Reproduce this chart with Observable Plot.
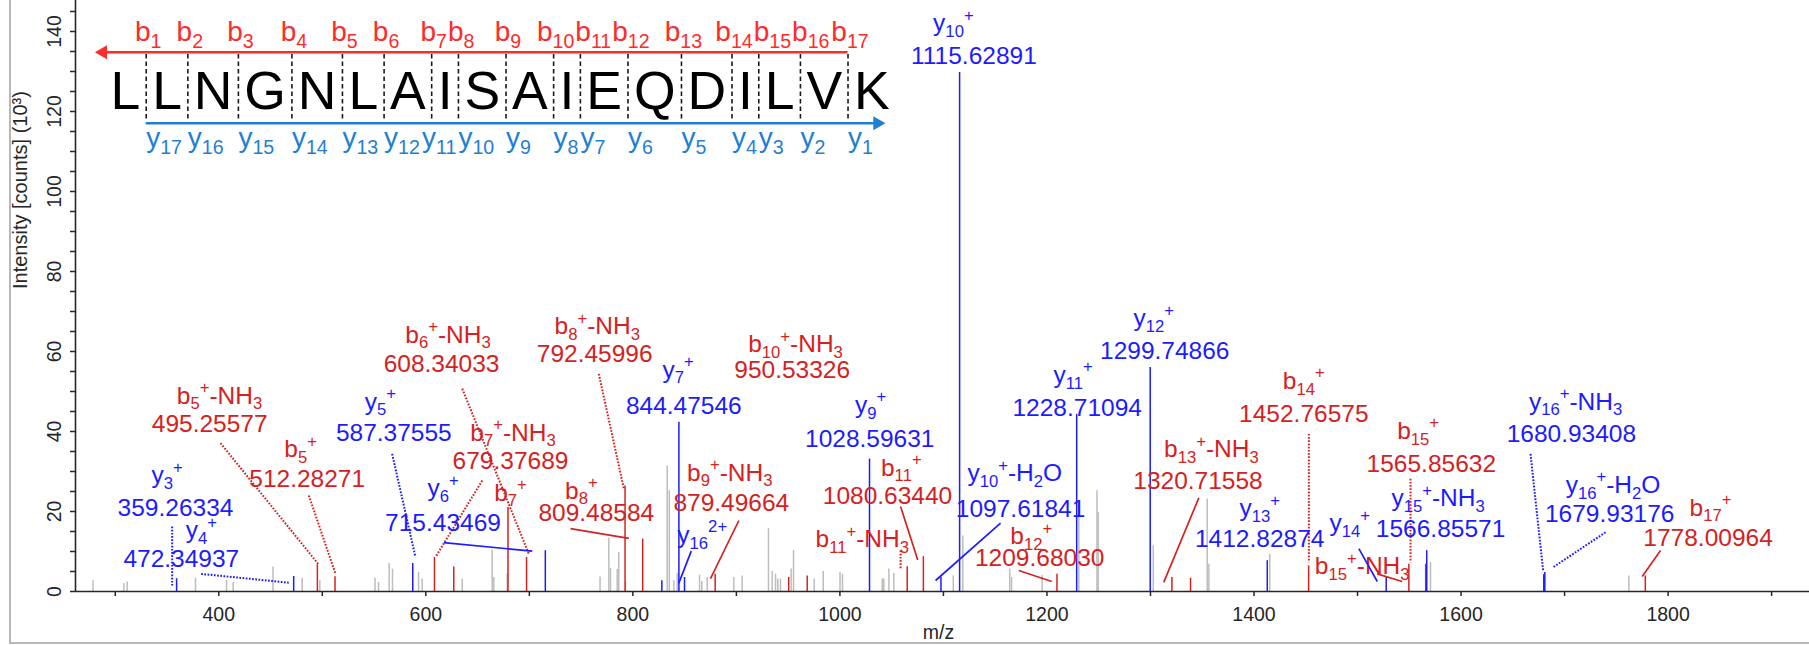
<!DOCTYPE html>
<html lang="en">
<head>
<meta charset="utf-8">
<title>MS/MS spectrum of LLNGNLAISAIEQDILVK</title>
<script src="https://cdn.jsdelivr.net/npm/d3@7"></script>
<script src="https://cdn.jsdelivr.net/npm/@observablehq/plot@0.6"></script>
<style>
  html, body { margin: 0; padding: 0; background: #fff; }
  #chart { position: relative; width: 1809px; height: 645px; overflow: hidden; background: #fff; }
  #chart svg { position: absolute; top: 0; left: 0; }
  #chart .border { position: absolute; left: 9px; top: -20px; width: 1900px; height: 664px;
                   border: 2.5px solid #b8b8b8; box-sizing: border-box; pointer-events: none; }
</style>
</head>
<body>
<div id="chart"></div>
<script>
// ---------- spectrum data: m/z and intensity (10^3 counts) ----------
// b-type fragment ions (red); names use _{sub} and ^{sup} markup, "" = unassigned label
const bNames = ["b_{5}^{+}-NH_{3}", "b_{5}^{+}", "b_{6}^{+}-NH_{3}", "", "b_{7}^{+}-NH_{3}", "b_{7}^{+}",
  "b_{8}^{+}-NH_{3}", "b_{8}^{+}", "b_{9}^{+}-NH_{3}", "b_{10}^{+}-NH_{3}", "", "b_{11}^{+}-NH_{3}", "b_{11}^{+}",
  "b_{12}^{+}", "b_{13}^{+}-NH_{3}", "", "b_{14}^{+}", "b_{15}^{+}-NH_{3}", "b_{15}^{+}", "b_{17}^{+}"];
const bMz = [495.25577, 512.28271, 608.34033, 627.0, 679.37689, 697.3, 792.45996, 809.48584, 879.49664,
  950.53326, 968.4, 1065.0, 1080.63440, 1209.68030, 1320.71558, 1338.7, 1452.76575, 1549.6, 1565.85632, 1778.00964];
const bIntensity = [6.7, 3.7, 8.5, 6.1, 21, 8.5, 26.4, 13.1, 4.3, 3.5, 3.9, 6.2, 8.7, 4.3, 3.5, 3.3, 6.4, 6.8, 6.8, 3.9];

// y-type fragment ions (blue)
const yNames = ["y_{3}^{+}", "y_{4}^{+}", "y_{5}^{+}", "y_{6}^{+}", "", "y_{7}^{+}", "y_{16}^{2+}", "y_{9}^{+}",
  "y_{10}^{+}-H_{2}O", "y_{10}^{+}", "y_{11}^{+}", "y_{12}^{+}", "y_{13}^{+}", "y_{14}^{+}", "y_{15}^{+}-NH_{3}",
  "y_{16}^{+}-H_{2}O", "y_{16}^{+}-NH_{3}"];
const yMz = [359.26334, 472.34937, 587.37555, 715.43469, 828.0, 844.47546, 849.9, 1028.59631, 1097.61841,
  1115.62891, 1228.71094, 1299.74866, 1412.82874, 1527.7, 1566.85571, 1679.93176, 1680.93408];
const yIntensity = [3.2, 3.75, 7.0, 10.2, 2.7, 42.3, 3.5, 33.1, 3.5, 129.75, 44.3, 56, 7.7, 3.5, 10.2, 4.2, 4.75];

// unassigned peaks (grey)
const otherMz = [278.5, 308.3, 311.5, 377.5, 407.5, 413.9, 452.4, 480.6, 497.6, 550.9, 554.3, 564.6, 567.8,
  593.0, 596.5, 635.2, 664.1, 665.7, 678.6, 768.3, 776.8, 778.4, 784.9, 786.4, 792.9, 833.2, 835.2, 839.6,
  842.9, 864.4, 866.6, 871.8, 897.5, 905.6, 931.0, 934.6, 937.8, 940.0, 942.6, 952.9, 955.2, 975.2, 983.9,
  1000.1, 1002.5, 1040.9, 1042.4, 1047.3, 1052.1, 1109.5, 1118.7, 1164.0, 1165.8, 1195.4, 1230.8, 1248.3,
  1249.5, 1302.7, 1354.8, 1356.4, 1415.2, 1570.5, 1762.1];
const otherIntensity = [2.7, 2.0, 2.4, 3.3, 2.8, 2.25, 6.1, 3.3, 2.7, 3.3, 2.25, 7.0, 5.6, 4.75, 3.1, 3.1,
  10.4, 3.5, 4.5, 3.6, 13.3, 5.8, 5.5, 9.75, 2.25, 31.4, 25.2, 2.7, 4.5, 4.1, 2.5, 3.5, 3.5, 3.9, 15.7, 5.0,
  4.3, 3.1, 3.1, 5.6, 10.3, 3.1, 5.0, 4.75, 4.3, 3.1, 3.1, 5.6, 4.5, 3.9, 13.9, 5.6, 3.5, 4.0, 21.5, 25.2,
  19.75, 11.4, 23.1, 6.8, 9.3, 7.25, 3.9];

// peptide sequence
const residues = ["L", "L", "N", "G", "N", "L", "A", "I", "S", "A", "I", "E", "Q", "D", "I", "L", "V", "K"];

// axis ticks
const xTicks = d3.range(300, 1901, 100);
const yTicks = d3.range(0, 146, 5);
const yTickLabels = [0, 20, 40, 60, 80, 100, 120, 140];

// ---------- annotation layout (anchors in m/z, intensity units) ----------
const labelLayout = [
  {ion: "y_{3}^{+}", name: [350.2, 27.1], num: [358.2, 19.0]},
  {ion: "y_{4}^{+}", name: [383.1, 13.4], num: [363.8, 6.1]},
  {ion: "b_{5}^{+}-NH_{3}", name: [400.7, 47.0], num: [391.2, 39.8]},
  {ion: "b_{5}^{+}", name: [479.0, 33.6], num: [485.4, 26.1]},
  {ion: "y_{5}^{+}", name: [556.2, 45.5], num: [569.1, 37.75]},
  {ion: "y_{6}^{+}", name: [616.6, 23.8], num: [616.6, 15.25]},
  {ion: "b_{6}^{+}-NH_{3}", name: [621.4, 62.25], num: [615.2, 54.8]},
  {ion: "b_{7}^{+}-NH_{3}", name: [684.2, 37.75], num: [681.8, 30.7]},
  {ion: "b_{7}^{+}", name: [681.8, 22.75]},
  {ion: "b_{8}^{+}-NH_{3}", name: [765.6, 64.4], num: [763.1, 57.3]},
  {ion: "b_{8}^{+}", name: [750.2, 23.25], num: [764.7, 17.75]},
  {ion: "y_{7}^{+}", name: [843.6, 53.5], num: [849.2, 44.4]},
  {ion: "b_{9}^{+}-NH_{3}", name: [893.6, 27.75], num: [895.1, 20.25]},
  {ion: "y_{16}^{2+}", name: [867.0, 12.2]},
  {ion: "b_{10}^{+}-NH_{3}", name: [957.1, 59.8], num: [953.9, 53.4]},
  {ion: "y_{9}^{+}", name: [1029.6, 44.7], num: [1028.8, 36.1]},
  {ion: "b_{11}^{+}", name: [1059.3, 29], num: [1046.0, 21.9]},
  {ion: "b_{11}^{+}-NH_{3}", name: [1021.6, 11.1]},
  {ion: "y_{10}^{+}", name: [1109.6, 140.1], num: [1129.4, 131.9]},
  {ion: "y_{10}^{+}-H_{2}O", name: [1168.9, 27.6], num: [1174.5, 18.6]},
  {ion: "b_{12}^{+}", name: [1184.9, 11.9], num: [1193.0, 6.5]},
  {ion: "y_{11}^{+}", name: [1225.2, 52.2], num: [1229.2, 44]},
  {ion: "y_{12}^{+}", name: [1303.2, 66.3], num: [1313.8, 58.2]},
  {ion: "b_{13}^{+}-NH_{3}", name: [1358.8, 33.6], num: [1345.9, 25.7]},
  {ion: "y_{13}^{+}", name: [1405.5, 18.8], num: [1405.5, 11.1]},
  {ion: "b_{14}^{+}", name: [1448.1, 50.7], num: [1448.1, 42.3]},
  {ion: "y_{14}^{+}", name: [1492.5, 15.1]},
  {ion: "b_{15}^{+}-NH_{3}", name: [1504.5, 4.4]},
  {ion: "b_{15}^{+}", name: [1558.5, 38.2], num: [1571.3, 29.8]},
  {ion: "y_{15}^{+}-NH_{3}", name: [1577.8, 21.3], num: [1580.2, 13.6]},
  {ion: "y_{16}^{+}-NH_{3}", name: [1710.6, 45.5], num: [1706.6, 37.3]},
  {ion: "y_{16}^{+}-H_{2}O", name: [1746.8, 24.7], num: [1743.6, 17.3]},
  {ion: "b_{17}^{+}", name: [1841.0, 19], num: [1838.6, 11.5]}
];

// leader lines from a label to its peak
const leaders = [
  {ion: "y_{3}^{+}", from: [355.0, 16.25], to: [355.0, 1.5], dotted: true},
  {ion: "y_{4}^{+}", from: [383.0, 4.4], to: [467.6, 2.2], dotted: true},
  {ion: "b_{5}^{+}-NH_{3}", from: [401.7, 37.1], to: [496.0, 6.9], dotted: true},
  {ion: "b_{5}^{+}", from: [487.0, 24], to: [512.8, 4.4], dotted: true},
  {ion: "y_{5}^{+}", from: [567.5, 34.4], to: [590.0, 8.6], dotted: true},
  {ion: "y_{6}^{+}", from: [617.4, 12.2], to: [702.8, 10.1], dotted: false},
  {ion: "b_{6}^{+}-NH_{3}", from: [635.2, 50.7], to: [699.5, 9.4], dotted: true},
  {ion: "b_{7}^{+}-NH_{3}", from: [654.5, 27.75], to: [609.4, 8.6], dotted: true},
  {ion: "b_{8}^{+}-NH_{3}", from: [767.1, 54.4], to: [791.3, 25.7], dotted: true},
  {ion: "b_{8}^{+}", from: [739.8, 15.7], to: [796.1, 13.3], dotted: false},
  {ion: "y_{16}^{2+}", from: [856.4, 10.1], to: [844.4, 2.1], dotted: false},
  {ion: "b_{9}^{+}-NH_{3}", from: [902.4, 17.75], to: [875.0, 3.2], dotted: false},
  {ion: "b_{11}^{+}-NH_{3}", from: [1058.6, 10.25], to: [1058.6, 5.7], dotted: true},
  {ion: "b_{11}^{+}", from: [1058.6, 21.25], to: [1075.2, 7.9], dotted: false},
  {ion: "y_{10}^{+}-H_{2}O", from: [1155.2, 17.1], to: [1092.4, 2.75], dotted: false},
  {ion: "b_{12}^{+}", from: [1172.8, 5.25], to: [1204.6, 2.5], dotted: false},
  {ion: "b_{13}^{+}-NH_{3}", from: [1346.7, 23.4], to: [1312.8, 2.3], dotted: false},
  {ion: "b_{14}^{+}", from: [1453.0, 39.4], to: [1453.0, 7.3], dotted: true},
  {ion: "y_{14}^{+}", from: [1501.3, 10.7], to: [1519.1, 2.5], dotted: false},
  {ion: "b_{15}^{+}-NH_{3}", from: [1519.0, 4.4], to: [1543.1, 2.5], dotted: false},
  {ion: "b_{15}^{+}", from: [1551.2, 28.2], to: [1551.2, 7.3], dotted: true},
  {ion: "y_{16}^{+}-NH_{3}", from: [1667.1, 34.4], to: [1679.3, 5.25], dotted: true},
  {ion: "y_{16}^{+}-H_{2}O", from: [1739.6, 14.8], to: [1689.2, 6.1], dotted: true},
  {ion: "b_{17}^{+}", from: [1792.7, 10.25], to: [1775.0, 3.75], dotted: false}
];

// ---------- styling ----------
const BLUE = "#1c1cff", RED = "#d42222", GREY = "#bdbdbd", INK = "#262626";
const SEQ_RED = "#ff2b2b", SEQ_BLUE = "#1f80d2";
const FONT = "'Liberation Sans', Arial, Helvetica, sans-serif";
const LABEL_SIZE = 24.5;

// ---------- derived tables ----------
const ions = [
  ...bNames.map((name, i) => ({name, mz: bMz[i], intensity: bIntensity[i], series: "b"})),
  ...yNames.map((name, i) => ({name, mz: yMz[i], intensity: yIntensity[i], series: "y"}))
];
const ionByName = new Map(ions.filter(d => d.name).map(d => [d.name, d]));
const others = otherMz.map((mz, i) => ({mz, intensity: otherIntensity[i]}));
const seriesOf = name => ionByName.get(name).series;
const fmt = d3.format(".5f");

// turn _{..} / ^{..} markup inside every <text> into sub/superscript tspans
function applyScripts(svg, size, {scale = 0.68, sub = 0.24, sup = -0.42} = {}) {
  d3.select(svg).selectAll("text").each(function () {
    const src = this.textContent;
    if (!/[_^]\{/.test(src)) return;
    const el = d3.select(this).text(null);
    let offset = 0;
    for (const m of src.matchAll(/([_^])\{([^}]*)\}|([^_^]+)/g)) {
      const target = m[1] === "_" ? sub * size : m[1] === "^" ? sup * size : 0;
      const span = el.append("tspan").text(m[1] ? m[2] : m[3]);
      if (target - offset) span.attr("dy", target - offset);
      if (m[1]) span.attr("font-size", scale * size);
      offset = target;
    }
  });
}

// ---------- spectrum ----------
const xDomain = [261.6, 1936.6];
const labelMarks = ["b", "y"].flatMap(s => {
  const fill = s === "b" ? RED : BLUE;
  const rows = labelLayout.filter(d => seriesOf(d.ion) === s);
  const links = leaders.filter(d => seriesOf(d.ion) === s);
  const ends = {x1: d => d.from[0], y1: d => d.from[1], x2: d => d.to[0], y2: d => d.to[1]};
  return [
    Plot.link(links.filter(d => d.dotted), {...ends, stroke: fill, strokeWidth: 2, strokeDasharray: "1.7,1.5"}),
    Plot.link(links.filter(d => !d.dotted), {...ends, stroke: fill, strokeWidth: 1.7}),
    Plot.text(rows, {x: d => d.name[0], y: d => d.name[1], text: "ion", fill, fontSize: LABEL_SIZE,
      lineAnchor: "bottom"}),
    Plot.text(rows.filter(d => d.num), {x: d => d.num[0], y: d => d.num[1],
      text: d => fmt(ionByName.get(d.ion).mz), fill, fontSize: LABEL_SIZE, lineAnchor: "bottom"})
  ];
});

const spectrum = Plot.plot({
  width: 1809, height: 645,
  marginLeft: 75, marginRight: 0, marginTop: 0, marginBottom: 54,
  style: {fontFamily: FONT, background: "transparent", color: INK},
  x: {domain: xDomain, label: null},
  y: {domain: [0, 147.75], label: null},
  marks: [
    Plot.ruleX(others, {x: "mz", y1: 0, y2: "intensity", stroke: GREY, strokeWidth: 1.5}),
    Plot.ruleX(ions.filter(d => d.series === "b"), {x: "mz", y1: 0, y2: "intensity", stroke: RED, strokeWidth: 1.5}),
    Plot.ruleX(ions.filter(d => d.series === "y"), {x: "mz", y1: 0, y2: "intensity", stroke: BLUE, strokeWidth: 1.5}),
    ...labelMarks,
    Plot.ruleY([0], {stroke: INK, strokeWidth: 1.6}),
    Plot.ruleX([xDomain[0]], {stroke: INK, strokeWidth: 1.6}),
    Plot.axisX({ticks: xTicks, tickSize: 5, tickPadding: 11, strokeWidth: 1.5, fontSize: 19.5,
      tickFormat: d => d % 200 ? "" : String(d), label: null}),
    Plot.axisY({ticks: yTicks, tickSize: 5, strokeWidth: 1.5, tickFormat: () => "", label: null}),
    Plot.text(yTickLabels, {x: xDomain[0], y: d => d, text: d => String(d), rotate: -90, dx: -15,
      lineAnchor: "bottom", fontSize: 19.5, fill: INK}),
    Plot.text(["m/z"], {frameAnchor: "bottom", dx: -4, dy: 47, lineAnchor: "bottom", fontSize: 19.5, fill: INK}),
    Plot.text(["Intensity [counts] (10³)"], {frameAnchor: "left", rotate: -90, dx: -49, dy: -7,
      lineAnchor: "bottom", fontSize: 20, fill: INK})
  ]
});
applyScripts(spectrum, LABEL_SIZE);

// ---------- sequence ladder ----------
const SEQ_SIZE = 53.5, SEQ_GAP = 11.9, LADDER_SIZE = 28, LADDER_SUB = 0.7;
const ctx = document.createElement("canvas").getContext("2d");
const textWidth = (s, size) => { ctx.font = `${size}px ${FONT}`; return ctx.measureText(s).width; };
let cursor = 0;
const residueBoxes = residues.map(r => {
  const w = textWidth(r, SEQ_SIZE);
  const box = {r, center: cursor + w / 2, end: cursor + w};
  cursor = box.end + SEQ_GAP;
  return box;
});
const cleavages = residueBoxes.slice(0, -1).map((d, i) => {
  const bi = i + 1, yi = residues.length - 1 - i;
  return {
    x: d.end + SEQ_GAP / 2,
    b: `b_{${bi}}`, bw: textWidth("b", LADDER_SIZE) + textWidth(String(bi), LADDER_SIZE * LADDER_SUB),
    y: `y_{${yi}}`, yw: textWidth("y", LADDER_SIZE) + textWidth(String(yi), LADDER_SIZE * LADDER_SUB)
  };
});
// keep neighbouring ladder labels from colliding: b labels pushed right, y labels pulled left
cleavages.forEach((d, i) => {
  const prev = cleavages[i - 1];
  d.bx = prev ? Math.max(d.x + 2, prev.bx + (prev.bw + d.bw) / 2 + 1) : d.x + 2;
});
for (let i = cleavages.length - 1; i >= 0; --i) {
  const d = cleavages[i], next = cleavages[i + 1];
  d.yx = next ? Math.min(d.x, next.yx - d.yw - 2) : d.x;
}
const seqEnd = residueBoxes[residueBoxes.length - 1].end;
const row = {bLabel: 40, bArrow: 51.7, cutTop: 54, cutBottom: 120, letters: 108.3, yArrow: 122.7, yLabel: 146.5};
const lastCut = cleavages[cleavages.length - 1].x, firstCut = cleavages[0].x;

const ladder = Plot.plot({
  width: 820, height: 160, margin: 0,
  style: {fontFamily: FONT, background: "transparent", position: "absolute", left: "90px", top: "0px"},
  x: {domain: [-20, 800], axis: null},
  y: {domain: [160, 0], axis: null},
  marks: [
    Plot.ruleX(cleavages, {x: "x", y1: row.cutTop, y2: row.cutBottom, stroke: "#1a1a1a", strokeWidth: 1.6,
      strokeDasharray: "4.5,3"}),
    Plot.ruleY([row.bArrow], {x1: -10, x2: lastCut, stroke: SEQ_RED, strokeWidth: 2.6}),
    Plot.dot([row.bArrow], {x: -7.5, y: d => d, symbol: "triangle", r: 5.2, rotate: -90, fill: SEQ_RED, stroke: null}),
    Plot.ruleY([row.yArrow], {x1: firstCut, x2: seqEnd - 12, stroke: SEQ_BLUE, strokeWidth: 2.6}),
    Plot.dot([row.yArrow], {x: seqEnd - 12.3, y: d => d, symbol: "triangle", r: 5.2, rotate: 90, fill: SEQ_BLUE, stroke: null}),
    Plot.text(residueBoxes, {x: "center", y: row.letters, text: "r", fontSize: SEQ_SIZE, lineAnchor: "bottom", fill: "#000"}),
    Plot.text(cleavages, {x: "bx", y: row.bLabel, text: "b", fontSize: LADDER_SIZE, lineAnchor: "bottom",
      fill: SEQ_RED}),
    Plot.text(cleavages, {x: "yx", y: row.yLabel, text: "y", textAnchor: "start", fontSize: LADDER_SIZE,
      lineAnchor: "bottom", fill: SEQ_BLUE})
  ]
});
applyScripts(ladder, LADDER_SIZE, {scale: LADDER_SUB, sub: 0.25});

const chart = document.getElementById("chart");
chart.append(spectrum, ladder);
const border = document.createElement("div");
border.className = "border";
chart.append(border);
</script>
</body>
</html>
